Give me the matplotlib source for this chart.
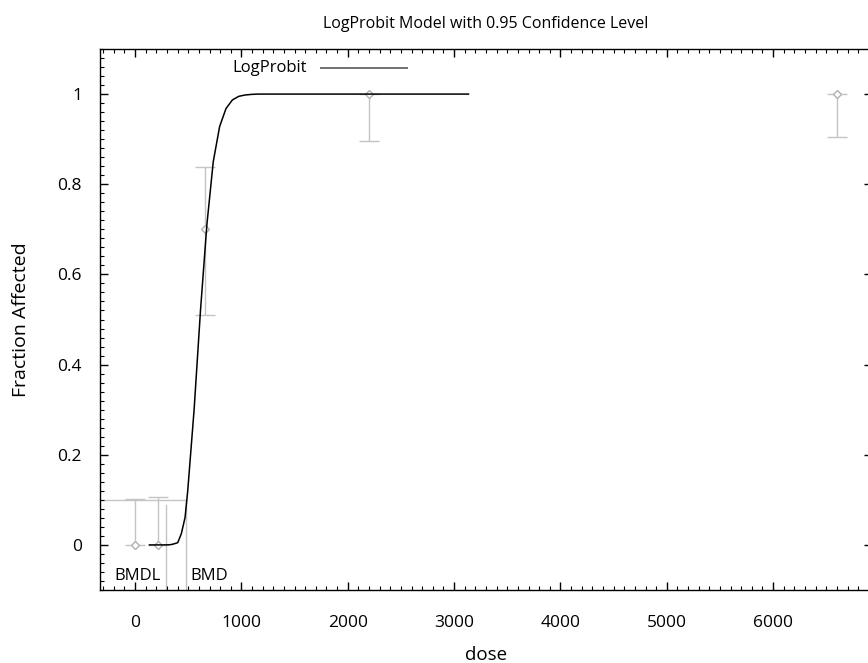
import matplotlib
matplotlib.use("Agg")
import matplotlib.pyplot as plt
from matplotlib.ticker import MultipleLocator, FuncFormatter

# ---- data ----
dose = [0, 220, 660, 2200, 6600]
frac = [0.0, 0.0, 0.70, 1.0, 1.0]
ci_low = [0.0, 0.0, 0.51, 0.897, 0.905]
ci_high = [0.1015, 0.107, 0.838, 1.0, 1.0]

curve_dose = [135, 195, 255, 315, 345, 375, 401, 435, 470, 495, 555, 615, 675, 735,
              795, 855, 915, 975, 1035, 1095, 1155, 1400, 1800, 2200, 2600, 3000, 3135]
curve_frac = [0.0, 0.0, 0.0, 0.0002, 0.001, 0.003, 0.005, 0.025, 0.061, 0.12, 0.30, 0.52,
              0.71, 0.85, 0.928, 0.968, 0.987, 0.995, 0.998, 0.9993, 1.0, 1.0, 1.0, 1.0,
              1.0, 1.0, 1.0]

bmd = 480
bmdl = 288
bmr = 0.1
bmdl_top = 0.089

title = "LogProbit Model with 0.95 Confidence Level"
xlabel = "dose"
ylabel = "Fraction Affected"
legend_label = "LogProbit"

plt.rcParams['font.family'] = ['Open Sans', 'DejaVu Sans']

fig = plt.figure(figsize=(8.68, 6.63), dpi=100)
ax = fig.add_axes([100/868, 73/663, 772/868, 541/663])

xmin, xmax = -330, 6930
ymin, ymax = -0.1, 1.1
ax.set_xlim(xmin, xmax)
ax.set_ylim(ymin, ymax)

gray = "#c4c4c4"
# BMD / BMDL lines
ax.plot([xmin, bmd], [bmr, bmr], color=gray, lw=1.0, zorder=1)
ax.plot([bmd, bmd], [ymin, bmr], color=gray, lw=1.0, zorder=1)
ax.plot([bmdl, bmdl], [ymin, bmdl_top], color=gray, lw=1.0, zorder=1)
ax.text(bmdl - 45, -0.069, "BMDL", ha="right", va="center", fontsize=12)
ax.text(bmd + 40, -0.069, "BMD", ha="left", va="center", fontsize=12)

# error bars
yerr = [[f - l for f, l in zip(frac, ci_low)], [h - f for f, h in zip(frac, ci_high)]]
ax.errorbar(dose, frac, yerr=yerr, fmt='D', color=gray, ecolor=gray, elinewidth=1.0,
            capsize=7, capthick=1.0, markersize=4, markerfacecolor='white',
            markeredgecolor="#b0b0b0", markeredgewidth=1.0, zorder=2)

# fitted curve
ax.plot(curve_dose, curve_frac, color="black", lw=1.1, zorder=3)

# legend-like entry
ax.text(0.268, 0.964, legend_label, transform=ax.transAxes, ha="right", va="center",
        fontsize=12)
ax.plot([0.286, 0.398], [0.964, 0.964], transform=ax.transAxes, color="#707070", lw=1.4)

ax.set_title(title, fontsize=11.5, pad=15)
ax.set_xlabel(xlabel, fontsize=13.5, labelpad=11)
ax.set_ylabel(ylabel, fontsize=14, labelpad=20)

ax.xaxis.set_major_locator(MultipleLocator(1000))
ax.xaxis.set_minor_locator(MultipleLocator(100))
ax.yaxis.set_major_locator(MultipleLocator(0.2))
ax.yaxis.set_minor_locator(MultipleLocator(0.02))
ax.yaxis.set_major_formatter(FuncFormatter(lambda v, p: f"{v:g}" if abs(v) > 1e-9 else "0"))
ax.tick_params(which='both', direction='in', top=True, right=True, labelsize=12.5, color="black")
ax.tick_params(which='major', length=6, width=1.0)
ax.tick_params(axis='x', which='major', pad=18)
ax.tick_params(axis='y', which='major', pad=13)
ax.tick_params(which='minor', length=3, width=0.8)
ax.tick_params(axis='y', which='minor', right=False)
for s in ax.spines.values():
    s.set_linewidth(1.0)

fig.savefig("out.png", dpi=100)
